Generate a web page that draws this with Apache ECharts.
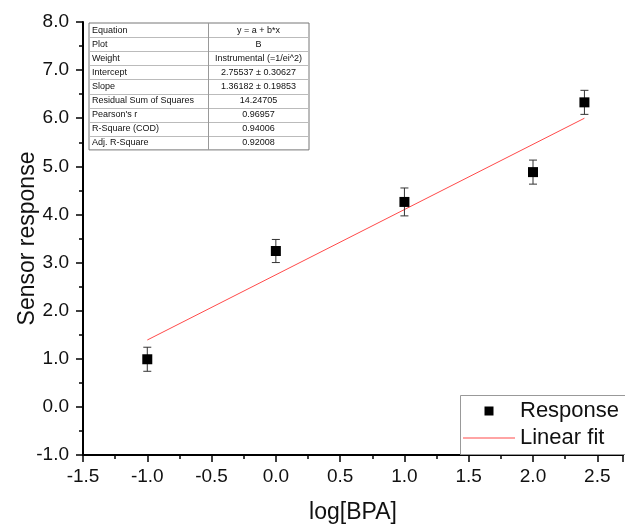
<!DOCTYPE html>
<html>
<head>
<meta charset="utf-8">
<script src="https://cdn.jsdelivr.net/npm/echarts@6/dist/echarts.min.js"></script>
<style>
  html, body { margin: 0; padding: 0; background: #fff; }
  #chart { width: 625px; height: 529px; }
</style>
</head>
<body>
<div id="chart"></div>
<script>
/* ---------- data ---------- */
var logBPA   = [-1, 0, 1, 2, 2.4];
var response = [0.99, 3.24, 4.26, 4.88, 6.33];
var errors   = [0.25, 0.24, 0.29, 0.25, 0.25];

var fitX = [-1, 2.4];
var fitY = [1.39, 6.0];

var tableLabels = ['Equation', 'Plot', 'Weight', 'Intercept', 'Slope',
    'Residual Sum of Squares', "Pearson's r", 'R-Square (COD)', 'Adj. R-Square'];
var tableValues = ['y = a + b*x', 'B', 'Instrumental (=1/ei^2)', '2.75537 \u00b1 0.30627',
    '1.36182 \u00b1 0.19853', '14.24705', '0.96957', '0.94006', '0.92008'];

var FONT = 'Arial, "Liberation Sans", sans-serif';
var FIT_COLOR = '#ff4a4a';

/* legend icons: invisible corner points keep the 52x10 box */
var ICON_SQUARE = 'path://M0,0L0,0M52,10L52,10M21.5,0.5h9v9h-9z';
var ICON_LINE = 'path://M0,0L0,0M52,10L52,10M0,4.5h52v1h-52z';

/* ---------- table as graphic ---------- */
function buildTable() {
    var x0 = 89, y0 = 23, colX = 208, x1 = 309, rowH = 14.1;
    var children = [];
    children.push({
        type: 'rect',
        shape: { x: x0, y: y0, width: x1 - x0, height: rowH * tableLabels.length },
        style: { fill: '#fff', stroke: '#777', lineWidth: 1 }
    });
    for (var i = 1; i < tableLabels.length; i++) {
        var yy = Math.round(y0 + i * rowH) + 0.5;
        children.push({
            type: 'line',
            shape: { x1: x0, y1: yy, x2: x1, y2: yy },
            style: { stroke: '#bbb', lineWidth: 1 }
        });
    }
    children.push({
        type: 'line',
        shape: { x1: colX + 0.5, y1: y0, x2: colX + 0.5, y2: y0 + rowH * tableLabels.length },
        style: { stroke: '#999', lineWidth: 1 }
    });
    tableLabels.forEach(function (lab, i) {
        var cy = y0 + (i + 0.5) * rowH;
        children.push({
            type: 'text',
            style: { x: x0 + 3, y: cy, text: lab, font: '9px ' + FONT,
                     fill: '#111', verticalAlign: 'middle', align: 'left' }
        });
        children.push({
            type: 'text',
            style: { x: (colX + x1) / 2, y: cy, text: tableValues[i], font: '9px ' + FONT,
                     fill: '#111', verticalAlign: 'middle', align: 'center' }
        });
    });
    return [
        { type: 'group', z: 100, children: children },
        /* legend frame, runs past the right edge like the original */
        { type: 'rect', z: 3, shape: { x: 460.5, y: 395.5, width: 220, height: 59 },
          style: { fill: '#fff', stroke: '#999', lineWidth: 1 } }
    ];
}

var chart = echarts.init(document.getElementById('chart'), null, { renderer: 'canvas' });

var option = {
    animation: false,
    backgroundColor: '#fff',
    textStyle: { fontFamily: FONT },
    grid: { left: 83, top: 22, right: 2, bottom: 69, containLabel: false },
    legend: {
        orient: 'vertical',
        left: 460,
        top: 395,
        z: 10,
        padding: [5, 0, 3, 3],
        borderWidth: 0,
        itemWidth: 52,
        itemHeight: 10,
        itemGap: 5,
        textStyle: { fontSize: 22, color: '#111', fontFamily: FONT },
        data: [
            { name: 'Response', icon: ICON_SQUARE, itemStyle: { color: '#000', borderWidth: 0 } },
            { name: 'Linear fit', icon: ICON_LINE, itemStyle: { color: FIT_COLOR, borderWidth: 0 },
              lineStyle: { width: 0 } }
        ]
    },
    xAxis: {
        type: 'value',
        min: -1.5,
        max: 2.7,
        interval: 0.5,
        name: 'log[BPA]',
        nameLocation: 'middle',
        nameGap: 46,
        nameMoveOverlap: false,
        nameTextStyle: { fontSize: 23, color: '#111', fontFamily: FONT },
        axisLine: { onZero: false, lineStyle: { color: '#000', width: 2 } },
        axisTick: { length: 7, lineStyle: { color: '#000', width: 1.5 } },
        minorTick: { show: true, splitNumber: 2, length: 4, lineStyle: { color: '#000', width: 1.5 } },
        splitLine: { show: false },
        axisLabel: {
            fontSize: 19, color: '#111', margin: 12, showMaxLabel: false,
            formatter: function (v) { return v.toFixed(1); }
        }
    },
    yAxis: {
        type: 'value',
        min: -1,
        max: 8,
        interval: 1,
        name: 'Sensor response',
        nameLocation: 'middle',
        nameGap: 44,
        nameMoveOverlap: false,
        nameTextStyle: { fontSize: 23, color: '#111', fontFamily: FONT },
        axisLine: { onZero: false, lineStyle: { color: '#000', width: 2 } },
        axisTick: { length: 7, lineStyle: { color: '#000', width: 1.5 } },
        minorTick: { show: true, splitNumber: 2, length: 4, lineStyle: { color: '#000', width: 1.5 } },
        splitLine: { show: false },
        axisLabel: {
            fontSize: 19, color: '#111', margin: 14,
            formatter: function (v) { return v.toFixed(1); }
        }
    },
    graphic: buildTable(),
    series: [
        {
            name: 'Linear fit',
            type: 'line',
            symbol: 'none',
            lineStyle: { color: FIT_COLOR, width: 1 },
            itemStyle: { color: FIT_COLOR },
            data: fitX.map(function (x, i) { return [x, fitY[i]]; }),
            z: 2
        },
        {
            name: 'errorbars',
            type: 'custom',
            data: logBPA.map(function (x, i) { return [x, response[i] - errors[i], response[i] + errors[i]]; }),
            renderItem: function (params, api) {
                var lo = api.coord([api.value(0), api.value(1)]);
                var hi = api.coord([api.value(0), api.value(2)]);
                var w = 4;
                var st = { stroke: '#333', lineWidth: 1 };
                return {
                    type: 'group',
                    children: [
                        { type: 'line', shape: { x1: lo[0], y1: lo[1], x2: hi[0], y2: hi[1] }, style: st },
                        { type: 'line', shape: { x1: lo[0] - w, y1: lo[1], x2: lo[0] + w, y2: lo[1] }, style: st },
                        { type: 'line', shape: { x1: hi[0] - w, y1: hi[1], x2: hi[0] + w, y2: hi[1] }, style: st }
                    ]
                };
            },
            z: 3
        },
        {
            name: 'Response',
            type: 'scatter',
            symbol: 'rect',
            symbolSize: 10,
            itemStyle: { color: '#000', opacity: 1 },
            data: logBPA.map(function (x, i) { return [x, response[i]]; }),
            z: 4
        }
    ]
};

chart.setOption(option);
</script>
</body>
</html>
